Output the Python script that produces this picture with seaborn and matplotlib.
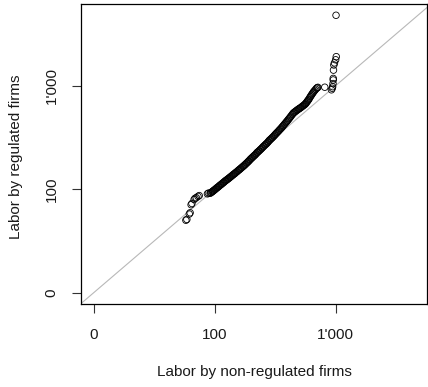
import matplotlib
matplotlib.use("Agg")
import matplotlib.pyplot as plt
import seaborn as sns
import pandas as pd

# log10 quantiles of labor: non-regulated (x) vs regulated (y)
x_log = [1.762, 1.770, 1.790, 1.797, 1.805, 1.812, 1.830, 1.838, 1.848, 1.862, 1.872, 1.940, 1.948,
         1.962, 1.967, 1.972, 1.978, 1.983, 1.988, 1.993, 1.998,
         2.004, 2.010, 2.016, 2.022, 2.028, 2.034, 2.040, 2.046,
         2.052, 2.058, 2.064, 2.070, 2.076, 2.082, 2.088, 2.094,
         2.100, 2.106, 2.112, 2.118, 2.124, 2.130, 2.136, 2.143,
         2.149, 2.155, 2.161, 2.167, 2.173, 2.180, 2.187, 2.194,
         2.200, 2.206, 2.212, 2.218, 2.225, 2.232, 2.238, 2.244,
         2.250, 2.256, 2.263, 2.270, 2.276, 2.282, 2.288, 2.294,
         2.300, 2.306, 2.312, 2.318, 2.325, 2.331, 2.337, 2.344,
         2.350, 2.356, 2.362, 2.368, 2.375, 2.381, 2.388, 2.394,
         2.400, 2.406, 2.413, 2.419, 2.425, 2.431, 2.438, 2.444,
         2.450, 2.456, 2.462, 2.469, 2.475, 2.481, 2.488, 2.494,
         2.500, 2.506, 2.512, 2.518, 2.525, 2.531, 2.537, 2.544,
         2.550, 2.556, 2.562, 2.568, 2.575, 2.581, 2.588, 2.594,
         2.600, 2.606, 2.612, 2.618, 2.625, 2.631, 2.638, 2.644,
         2.650, 2.656, 2.663, 2.670, 2.677, 2.684, 2.691, 2.697,
         2.703, 2.710, 2.717, 2.724, 2.731, 2.738, 2.744, 2.749,
         2.754, 2.759, 2.764, 2.769, 2.774, 2.779, 2.785, 2.791,
         2.797, 2.803, 2.809, 2.815, 2.821, 2.828, 2.835, 2.842,
         2.848, 2.853, 2.910, 2.965, 2.972, 2.975, 2.978, 2.980, 2.980, 2.982, 2.985, 2.990, 3.000, 3.005, 3.003]
y_log = [1.700, 1.708, 1.760, 1.772, 1.850, 1.862, 1.900, 1.912, 1.918, 1.930, 1.938, 1.955, 1.962,
         1.960, 1.966, 1.969, 1.975, 1.978, 1.984, 1.988, 1.993,
         1.999, 2.004, 2.012, 2.015, 2.022, 2.027, 2.034, 2.040,
         2.044, 2.051, 2.056, 2.063, 2.067, 2.075, 2.080, 2.085,
         2.091, 2.095, 2.102, 2.106, 2.113, 2.118, 2.124, 2.130,
         2.137, 2.142, 2.148, 2.152, 2.160, 2.166, 2.172, 2.180,
         2.186, 2.191, 2.197, 2.204, 2.210, 2.218, 2.223, 2.230,
         2.236, 2.243, 2.251, 2.258, 2.266, 2.272, 2.280, 2.288,
         2.295, 2.301, 2.308, 2.315, 2.322, 2.329, 2.335, 2.344,
         2.354, 2.358, 2.366, 2.371, 2.380, 2.386, 2.394, 2.401,
         2.410, 2.415, 2.424, 2.430, 2.437, 2.443, 2.452, 2.460,
         2.470, 2.475, 2.483, 2.490, 2.497, 2.504, 2.512, 2.520,
         2.528, 2.535, 2.543, 2.550, 2.558, 2.566, 2.574, 2.582,
         2.590, 2.598, 2.607, 2.615, 2.625, 2.633, 2.643, 2.651,
         2.660, 2.668, 2.678, 2.686, 2.697, 2.706, 2.717, 2.726,
         2.735, 2.741, 2.747, 2.754, 2.760, 2.766, 2.772, 2.777,
         2.781, 2.787, 2.793, 2.800, 2.806, 2.812, 2.818, 2.823,
         2.830, 2.838, 2.846, 2.854, 2.862, 2.870, 2.882, 2.894,
         2.905, 2.915, 2.926, 2.936, 2.946, 2.955, 2.965, 2.975,
         2.980, 2.984, 2.985, 2.960, 2.975, 2.990, 3.020, 3.055, 3.070, 3.150, 3.200, 3.220, 3.250, 3.280, 3.680]

tick_pos = [1, 2, 3]
tick_labels = ["0", "100", "1'000"]

df = pd.DataFrame({"x": x_log, "y": y_log})

sns.set_theme(style="white")
plt.rcParams['font.family'] = ['Liberation Sans', 'DejaVu Sans']

fig = plt.figure(figsize=(4.28, 3.87), dpi=100)
ax = fig.add_axes([81/428, 1 - 304.3/387, (427 - 81)/428, (304.3 - 4.3)/387])

ax.set_xlim(0.895, 3.755)
ax.set_ylim(0.888, 3.786)
ax.axline((1, 1), slope=1, color="#b8b8b8", lw=0.8, zorder=1)

sns.scatterplot(data=df, x="x", y="y", ax=ax, marker="o", s=22,
                facecolor="none", edgecolor="black", linewidth=0.6, zorder=2)

for sp in ax.spines.values():
    sp.set_visible(True)
    sp.set_color("black")
    sp.set_linewidth(0.9)

ax.set_xticks(tick_pos)
ax.set_xticklabels(tick_labels)
ax.set_yticks(tick_pos)
ax.set_yticklabels(tick_labels, rotation=90, va="center")
ax.tick_params(axis="both", which="both", direction="out", length=6.5, width=0.8,
               color="#333333", labelsize=11, labelcolor="#1a1a1a", bottom=True, left=True)
ax.tick_params(axis="x", pad=10.5)
ax.tick_params(axis="y", pad=9.5)

ax.set_xlabel("Labor by non-regulated firms", fontsize=11, color="#1a1a1a")
ax.set_ylabel("Labor by regulated firms", fontsize=11, color="#1a1a1a")
ax.xaxis.set_label_coords(0.5, -(371.7 - 304.3) / 300)
ax.xaxis.label.set_va("center")
ax.yaxis.set_label_coords(-(81 - 16) / 346, (304.3 - 157) / 300)
ax.yaxis.label.set_va("center")

fig.savefig("out.png", dpi=100)
